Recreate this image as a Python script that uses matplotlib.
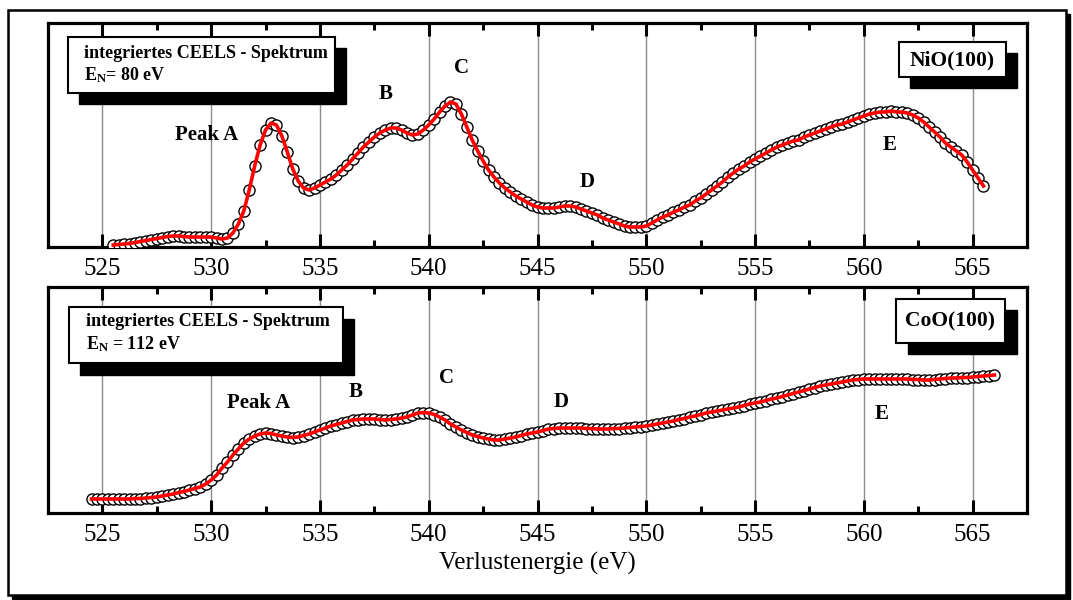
import numpy as np
import matplotlib
matplotlib.use("Agg")
import matplotlib.pyplot as plt
from matplotlib.patches import Rectangle

plt.rcParams['font.family'] = ['Liberation Serif', 'DejaVu Serif']
plt.rcParams['mathtext.fontset'] = 'custom'
plt.rcParams['mathtext.rm'] = 'Liberation Serif:bold'
plt.rcParams['mathtext.bf'] = 'Liberation Serif:bold'
plt.rcParams['mathtext.it'] = 'Liberation Serif:bold:italic'

# NiO(100), E_N = 80 eV, spectrum 525.5 ... 565.5 eV in 0.25 eV steps
nio_start, nio_stop = 525.5, 565.5
nio_intensity = [
    2, 2.5,
    3, 3.5, 4.5, 5.5,          # 526
    6.5, 7.5, 8.5, 9.5,        # 527
    10.5, 11, 11, 10.5,        # 528
    10, 10, 10, 10,            # 529
    10, 9, 8, 9,               # 530
    14, 23, 36, 57,            # 531
    81, 102, 117, 124,         # 532
    122, 111, 95, 78,          # 533
    66, 59, 57, 59,            # 534
    62, 65, 68, 72,            # 535
    77, 82, 88, 94,            # 536
    100, 105, 110, 114,        # 537
    117, 119, 119, 117,        # 538
    114, 112, 113, 117,        # 539
    122, 128, 135, 141,        # 540
    145, 143, 133, 120,        # 541
    107, 96, 86, 77,           # 542
    70, 64, 59, 55,            # 543
    51, 48, 45, 42,            # 544
    40, 39, 39, 39,            # 545
    40, 41, 41, 40,            # 546
    38, 36, 34, 32,            # 547
    29, 27, 25, 23,            # 548
    21, 20, 20, 20,            # 549
    21, 24, 27, 30,            # 550
    32, 35, 37, 40,            # 551
    42, 46, 49, 53,            # 552
    57, 61, 65, 70,            # 553
    74, 78, 81, 85,            # 554
    88, 91, 94, 97,            # 555
    100, 102, 104, 106,        # 556
    107, 110, 112, 114,        # 557
    116, 118, 120, 122,        # 558
    123, 125, 127, 129,        # 559
    131, 133, 134, 135,        # 560
    135, 136, 135, 135,        # 561
    134, 132, 129, 125,        # 562
    120, 115, 110, 104,        # 563
    100, 96, 92, 85,           # 564
    77, 69, 61,                # 565
]

# CoO(100), E_N = 112 eV, spectrum 524.5 ... 566.0 eV in 0.25 eV steps
coo_start, coo_stop = 524.5, 566.0
coo_intensity = [
    14, 14,
    14, 14, 14, 14,            # 525
    14, 14, 14.5, 14.5,        # 526
    15, 15.5, 16, 17,          # 527
    18, 19, 20.5, 21.5,        # 528
    23, 24.5, 26, 29,          # 529
    33, 38, 45, 51,            # 530
    58, 64, 70, 74,            # 531
    77, 79, 80, 79.5,          # 532
    78, 77, 76, 75.5,          # 533
    76, 77.5, 79, 81,          # 534
    83, 85, 87, 88.5,          # 535
    90, 91.5, 93, 93.5,        # 536
    94, 94, 94, 93.5,          # 537
    93, 93.5, 94, 95,          # 538
    96, 98, 100, 100.5,        # 539
    100, 98.5, 96, 93,         # 540
    89, 86, 83, 80.5,          # 541
    78, 76.5, 75, 74,          # 542
    73, 73, 74, 75,            # 543
    76, 77.5, 79, 80,          # 544
    81, 82.5, 84, 84.5,        # 545
    85, 85, 85, 85,            # 546
    85, 84.5, 84.5, 84,        # 547
    84, 84, 84.5, 84.5,        # 548
    85, 85.5, 86, 86.5,        # 549
    87, 88, 89, 90,            # 550
    91, 92, 93.5, 94.5,        # 551
    96, 97, 98.5, 100,         # 552
    101, 102, 103, 104,        # 553
    105, 106, 107.5, 109,      # 554
    110, 111, 112.5, 114,      # 555
    115, 116.5, 118, 119.5,    # 556
    121, 122.5, 124, 125.5,    # 557
    127, 128, 129, 130,        # 558
    131, 132, 133, 133.5,      # 559
    134, 134, 134, 134,        # 560
    134, 134, 134, 134,        # 561
    134, 133.5, 133.5, 133,    # 562
    133, 133.5, 134, 134.5,    # 563
    135, 135, 135.5, 135.5,    # 564
    136, 136.5, 137, 137.5,    # 565
    138,
]

nio_energy = np.linspace(nio_start, nio_stop, len(nio_intensity))
coo_energy = np.linspace(coo_start, coo_stop, len(coo_intensity))

W, H = 1073, 600
fig = plt.figure(figsize=(W / 100, H / 100), dpi=100)


def fx(px):
    return px / W


def fy(py):
    return 1 - py / H


def shadow_box(x0, y0, x1, y1, dx, dy, lw=1.5, z=5):
    # black drop shadow, then white box with black edge (pixel coords)
    fig.patches.append(Rectangle((fx(x0 + dx), fy(y1 + dy)), fx(x1 - x0), (y1 - y0) / H,
                                 transform=fig.transFigure, facecolor='black',
                                 edgecolor='black', zorder=z))
    fig.patches.append(Rectangle((fx(x0), fy(y1)), fx(x1 - x0), (y1 - y0) / H,
                                 transform=fig.transFigure, facecolor='white',
                                 edgecolor='black', lw=lw, zorder=z + 0.1))


# outer frame with thin shadow
fig.patches.append(Rectangle((fx(12), fy(599)), fx(1058), 585 / H, transform=fig.transFigure,
                             facecolor='black', edgecolor='black', zorder=-2))
fig.patches.append(Rectangle((fx(8), fy(595)), fx(1058), 585 / H, transform=fig.transFigure,
                             facecolor='white', edgecolor='black', lw=1.8, zorder=-1))

ax1 = fig.add_axes([fx(48), fy(247), fx(1027 - 48), (247 - 23) / H])
ax2 = fig.add_axes([fx(48), fy(513), fx(1027 - 48), (513 - 287) / H])

for ax, e, y, ymax in [(ax1, nio_energy, nio_intensity, 224), (ax2, coo_energy, coo_intensity, 226)]:
    ax.set_xlim(522.5, 567.5)
    ax.set_ylim(0, ymax)
    ax.set_xticks(np.arange(525, 566, 5))
    ax.set_xticks(np.arange(527.5, 566, 5), minor=True)
    ax.set_yticks([])
    ax.grid(axis='x', which='major', color='#8c8c8c', lw=1.0)
    ax.set_axisbelow(True)
    for s in ax.spines.values():
        s.set_linewidth(2.3)
    ax.tick_params(axis='x', which='both', direction='in', top=True, bottom=True,
                   labelsize=18, pad=8)
    ax.tick_params(axis='x', which='major', length=9.5, width=2.2)
    ax.tick_params(axis='x', which='minor', length=5, width=2.2)
    ax.plot(e, y, linestyle='none', marker='o', ms=8, mfc='white', mec='black', mew=1.0,
            zorder=3)
    ax.plot(e, y, color='red', lw=2.6, zorder=4)

ax2.set_xlabel('Verlustenergie (eV)', fontsize=18, labelpad=4)

lbl = dict(fontsize=15, fontweight='bold', ha='center', va='center')
ax1.text(529.8, 112, 'Peak A', **lbl)
ax1.text(538.0, 153, 'B', **lbl)
ax1.text(541.5, 179, 'C', **lbl)
ax1.text(547.3, 65, 'D', **lbl)
ax1.text(561.2, 102, 'E', **lbl)

ax2.text(532.2, 110, 'Peak A', **lbl)
ax2.text(536.65, 121, 'B', **lbl)
ax2.text(540.8, 135, 'C', **lbl)
ax2.text(546.1, 111, 'D', **lbl)
ax2.text(560.8, 99, 'E', **lbl)

# info boxes
shadow_box(68, 37, 335, 93, 11, 11)
fig.text(fx(84), fy(53), 'integriertes CEELS - Spektrum', fontsize=13, fontweight='bold',
         va='center', zorder=7)
fig.text(fx(84), fy(75), r'E$_{\mathrm{N}}$= 80 eV', fontsize=13, fontweight='bold',
         va='center', zorder=7)
shadow_box(899, 42, 1006, 77, 11, 11)
fig.text(fx(952), fy(60), 'NiO(100)', fontsize=15.5, fontweight='bold', ha='center',
         va='center', zorder=7)

shadow_box(69, 307, 343, 363, 11, 12)
fig.text(fx(86), fy(322), 'integriertes CEELS - Spektrum', fontsize=13, fontweight='bold',
         va='center', zorder=7)
fig.text(fx(86), fy(344), r'E$_{\mathrm{N}}$ = 112 eV', fontsize=13, fontweight='bold',
         va='center', zorder=7)
shadow_box(896, 299, 1005, 343, 12, 11)
fig.text(fx(950), fy(321), 'CoO(100)', fontsize=15.5, fontweight='bold', ha='center',
         va='center', zorder=7)

fig.savefig('out.png', dpi=100)
